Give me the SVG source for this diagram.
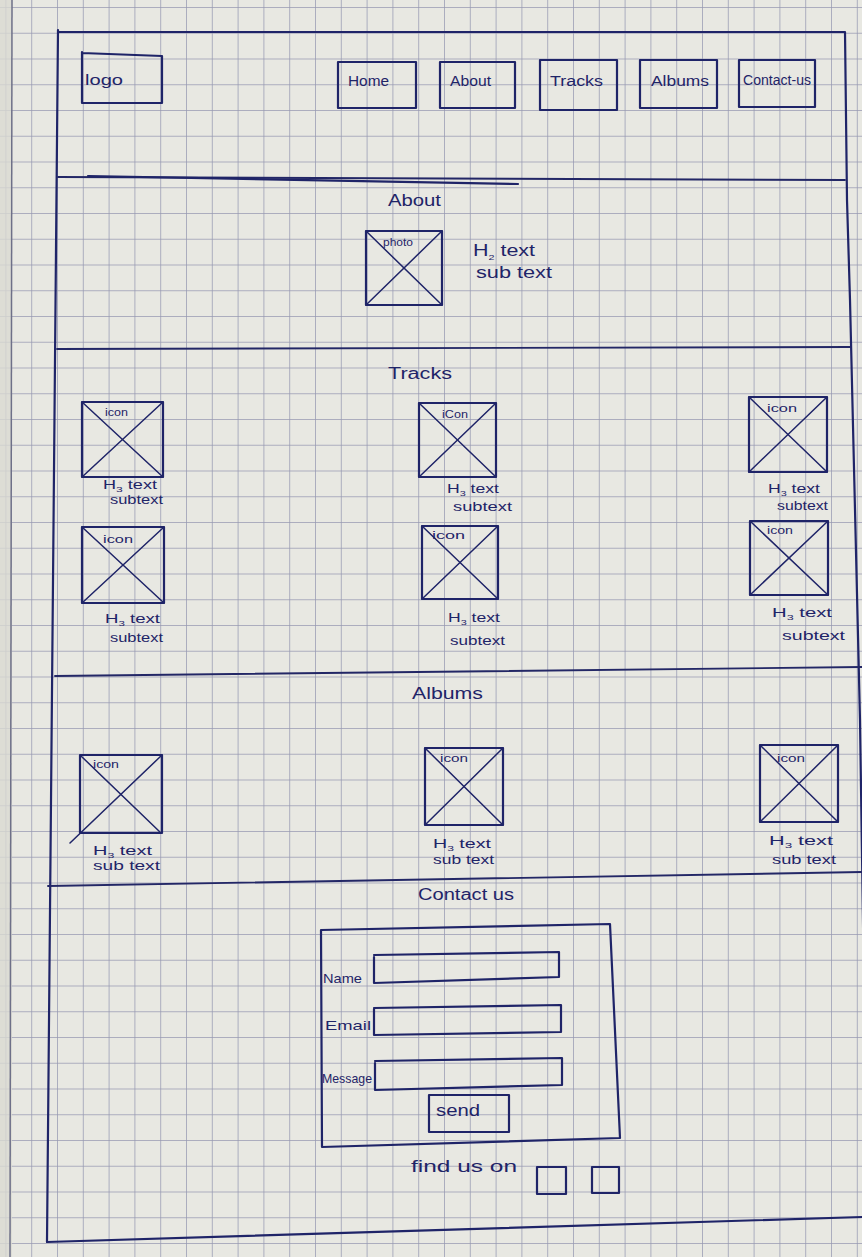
<svg xmlns="http://www.w3.org/2000/svg" width="862" height="1257" viewBox="0 0 862 1257">
<defs>
<pattern id="grid" patternUnits="userSpaceOnUse" x="5.4" y="7" width="25.8" height="25.75">
<path d="M0 0 H25.8 M0 0 V25.75" fill="none" stroke="#9799b2" stroke-width="1.5"/>
</pattern>
<style>
.ink{fill:none;stroke:#1f2468;stroke-width:2.2;stroke-linecap:round;stroke-linejoin:round}
.x{fill:none;stroke:#1f2468;stroke-width:1.5;stroke-linecap:round}
.sec{fill:none;stroke:#232766;stroke-width:1.9;stroke-linecap:round}
.t{font-family:"Liberation Sans",Arial,sans-serif;fill:#1f2468;font-size:13px}
.nav{font-size:14px}
.h{font-size:16px}
.ic{font-size:10px}
.sm{font-size:12px}
.sub{font-size:8px}
</style>
</defs>
<rect width="862" height="1257" fill="#e8e8e2"/>
<rect width="862" height="1257" fill="url(#grid)"/>
<rect x="0" y="0" width="12" height="1257" fill="#d9dad2" opacity="0.8"/>
<line x1="12" y1="0" x2="10" y2="1257" stroke="#6e7088" stroke-width="1.5"/>

<g id="frame">
<polyline class="ink" points="58,32 845,32 847,200 850,300 860,720 868,1257"/>
<line class="ink" x1="58" y1="30" x2="47" y2="1242"/>
<line class="ink" x1="47" y1="1242" x2="862" y2="1217"/>
<line class="sec" x1="58" y1="177" x2="845" y2="180"/>
<line class="ink" x1="88" y1="176" x2="518" y2="184"/>
<line class="sec" x1="57" y1="349" x2="850" y2="347"/>
<line class="sec" x1="55" y1="676" x2="862" y2="667"/>
<line class="sec" x1="48" y1="886" x2="862" y2="872"/>
</g>

<g id="header">
<g id="logo">
<polyline class="ink" points="82,52 82,103 162,103 162,56 82,53"/>
<text class="t nav" x="85" y="85" textLength="38" lengthAdjust="spacingAndGlyphs">logo</text>
</g>
<g id="nav-home">
<rect class="ink" x="338" y="62" width="78" height="46"/>
<text class="t nav" x="348" y="86" textLength="41" lengthAdjust="spacingAndGlyphs">Home</text>
</g>
<g id="nav-about">
<rect class="ink" x="440" y="62" width="75" height="46"/>
<text class="t nav" x="450" y="86" textLength="41" lengthAdjust="spacingAndGlyphs">About</text>
</g>
<g id="nav-tracks">
<rect class="ink" x="540" y="60" width="77" height="50"/>
<text class="t nav" x="550" y="86" textLength="53" lengthAdjust="spacingAndGlyphs">Tracks</text>
</g>
<g id="nav-albums">
<rect class="ink" x="640" y="60" width="77" height="48"/>
<text class="t nav" x="651" y="86" textLength="58" lengthAdjust="spacingAndGlyphs">Albums</text>
</g>
<g id="nav-contact">
<rect class="ink" x="739" y="60" width="76" height="47"/>
<text class="t nav" x="743" y="85" textLength="68" lengthAdjust="spacingAndGlyphs">Contact-us</text>
</g>
</g>

<g id="about">
<text class="t h" x="388" y="206" textLength="53" lengthAdjust="spacingAndGlyphs">About</text>
<g id="about-photo">
<rect class="ink" x="366" y="231" width="76" height="74"/>
<line class="x" x1="366" y1="231" x2="442" y2="305"/>
<line class="x" x1="442" y1="231" x2="366" y2="305"/>
<text class="t ic" x="383" y="246" textLength="30" lengthAdjust="spacingAndGlyphs">photo</text>
</g>
<g id="about-text">
<text class="t h" x="473" y="256" textLength="62" lengthAdjust="spacingAndGlyphs">H<tspan class="sub" dy="4">2</tspan><tspan dy="-4"> text</tspan></text>
<text class="t h" x="476" y="278" textLength="76" lengthAdjust="spacingAndGlyphs">sub text</text>
</g>
</g>

<g id="tracks">
<text class="t h" x="388" y="379" textLength="64" lengthAdjust="spacingAndGlyphs">Tracks</text>
<g id="track-1">
<rect class="ink" x="82" y="402" width="81" height="75"/>
<line class="x" x1="82" y1="402" x2="163" y2="477"/>
<line class="x" x1="163" y1="402" x2="82" y2="477"/>
<text class="t ic" x="105" y="416" textLength="23" lengthAdjust="spacingAndGlyphs">icon</text>
<text class="t sm" x="103" y="489" textLength="54" lengthAdjust="spacingAndGlyphs">H<tspan class="sub" dy="3">3</tspan><tspan dy="-3"> text</tspan></text>
<text class="t sm" x="110" y="504" textLength="53" lengthAdjust="spacingAndGlyphs">subtext</text>
</g>
<g id="track-2">
<rect class="ink" x="419" y="403" width="77" height="74"/>
<line class="x" x1="419" y1="403" x2="496" y2="477"/>
<line class="x" x1="496" y1="403" x2="419" y2="477"/>
<text class="t ic" x="442" y="418" textLength="26" lengthAdjust="spacingAndGlyphs">iCon</text>
<text class="t" x="447" y="493" textLength="52" lengthAdjust="spacingAndGlyphs">H<tspan class="sub" dy="3">3</tspan><tspan dy="-3"> text</tspan></text>
<text class="t" x="453" y="511" textLength="59" lengthAdjust="spacingAndGlyphs">subtext</text>
</g>
<g id="track-3">
<rect class="ink" x="749" y="397" width="78" height="75"/>
<line class="x" x1="749" y1="397" x2="827" y2="472"/>
<line class="x" x1="827" y1="397" x2="749" y2="472"/>
<text class="t ic" x="767" y="412" textLength="30" lengthAdjust="spacingAndGlyphs">icon</text>
<text class="t" x="768" y="493" textLength="52" lengthAdjust="spacingAndGlyphs">H<tspan class="sub" dy="3">3</tspan><tspan dy="-3"> text</tspan></text>
<text class="t" x="777" y="510" textLength="51" lengthAdjust="spacingAndGlyphs">subtext</text>
</g>
<g id="track-4">
<rect class="ink" x="82" y="527" width="82" height="76"/>
<line class="x" x1="82" y1="527" x2="164" y2="603"/>
<line class="x" x1="164" y1="527" x2="82" y2="603"/>
<text class="t ic" x="103" y="543" textLength="30" lengthAdjust="spacingAndGlyphs">icon</text>
<text class="t" x="105" y="623" textLength="55" lengthAdjust="spacingAndGlyphs">H<tspan class="sub" dy="3">3</tspan><tspan dy="-3"> text</tspan></text>
<text class="t" x="110" y="642" textLength="53" lengthAdjust="spacingAndGlyphs">subtext</text>
</g>
<g id="track-5">
<rect class="ink" x="422" y="526" width="76" height="73"/>
<line class="x" x1="422" y1="526" x2="498" y2="599"/>
<line class="x" x1="498" y1="526" x2="422" y2="599"/>
<text class="t ic" x="432" y="539" textLength="33" lengthAdjust="spacingAndGlyphs">icon</text>
<text class="t" x="448" y="622" textLength="52" lengthAdjust="spacingAndGlyphs">H<tspan class="sub" dy="3">3</tspan><tspan dy="-3"> text</tspan></text>
<text class="t" x="450" y="645" textLength="55" lengthAdjust="spacingAndGlyphs">subtext</text>
</g>
<g id="track-6">
<rect class="ink" x="750" y="521" width="78" height="74"/>
<line class="x" x1="750" y1="521" x2="828" y2="595"/>
<line class="x" x1="828" y1="521" x2="750" y2="595"/>
<text class="t ic" x="767" y="534" textLength="26" lengthAdjust="spacingAndGlyphs">icon</text>
<text class="t" x="772" y="617" textLength="60" lengthAdjust="spacingAndGlyphs">H<tspan class="sub" dy="3">3</tspan><tspan dy="-3"> text</tspan></text>
<text class="t" x="782" y="640" textLength="63" lengthAdjust="spacingAndGlyphs">subtext</text>
</g>
</g>

<g id="albums">
<text class="t h" x="412" y="699" textLength="71" lengthAdjust="spacingAndGlyphs">Albums</text>
<g id="album-1">
<rect class="ink" x="80" y="755" width="82" height="78"/>
<line class="x" x1="81" y1="756" x2="161" y2="833"/>
<line class="x" x1="162" y1="755" x2="70" y2="843"/>
<text class="t ic" x="93" y="768" textLength="26" lengthAdjust="spacingAndGlyphs">icon</text>
<text class="t" x="93" y="855" textLength="59" lengthAdjust="spacingAndGlyphs">H<tspan class="sub" dy="3">3</tspan><tspan dy="-3"> text</tspan></text>
<text class="t" x="93" y="870" textLength="67" lengthAdjust="spacingAndGlyphs">sub text</text>
</g>
<g id="album-2">
<rect class="ink" x="425" y="748" width="78" height="77"/>
<line class="x" x1="425" y1="748" x2="503" y2="825"/>
<line class="x" x1="503" y1="748" x2="425" y2="825"/>
<text class="t ic" x="440" y="762" textLength="28" lengthAdjust="spacingAndGlyphs">icon</text>
<text class="t" x="433" y="848" textLength="58" lengthAdjust="spacingAndGlyphs">H<tspan class="sub" dy="3">3</tspan><tspan dy="-3"> text</tspan></text>
<text class="t" x="433" y="864" textLength="61" lengthAdjust="spacingAndGlyphs">sub text</text>
</g>
<g id="album-3">
<rect class="ink" x="760" y="745" width="78" height="77"/>
<line class="x" x1="760" y1="745" x2="838" y2="822"/>
<line class="x" x1="838" y1="745" x2="760" y2="822"/>
<text class="t ic" x="777" y="762" textLength="28" lengthAdjust="spacingAndGlyphs">icon</text>
<text class="t" x="769" y="845" textLength="64" lengthAdjust="spacingAndGlyphs">H<tspan class="sub" dy="3">3</tspan><tspan dy="-3"> text</tspan></text>
<text class="t" x="772" y="864" textLength="64" lengthAdjust="spacingAndGlyphs">sub text</text>
</g>
</g>

<g id="contact">
<text class="t h" x="418" y="900" textLength="96" lengthAdjust="spacingAndGlyphs">Contact us</text>
<g id="contact-form">
<polyline class="ink" points="321,930 610,924 620,1138 322,1147 321,930"/>
</g>
<g id="field-name">
<text class="t" x="323" y="983" textLength="39" lengthAdjust="spacingAndGlyphs">Name</text>
<polyline class="ink" points="374,957 374,983 559,977 559,952 374,955"/>
</g>
<g id="field-email">
<text class="t" x="325" y="1030" textLength="46" lengthAdjust="spacingAndGlyphs">Email</text>
<polyline class="ink" points="374,1009 374,1035 561,1032 561,1005 374,1008"/>
</g>
<g id="field-message">
<text class="t" x="322" y="1083" textLength="50" lengthAdjust="spacingAndGlyphs">Message</text>
<polyline class="ink" points="375,1063 375,1090 562,1085 562,1058 375,1061"/>
</g>
<g id="send-button">
<rect class="ink" x="429" y="1095" width="80" height="37"/>
<text class="t h" x="436" y="1116" textLength="44" lengthAdjust="spacingAndGlyphs">send</text>
</g>
<g id="find-us">
<text class="t h" x="411" y="1172" textLength="106" lengthAdjust="spacingAndGlyphs">find us on</text>
</g>
<g id="social-1">
<rect class="ink" x="537" y="1167" width="29" height="27"/>
</g>
<g id="social-2">
<rect class="ink" x="592" y="1167" width="27" height="26"/>
</g>
</g>
</svg>
